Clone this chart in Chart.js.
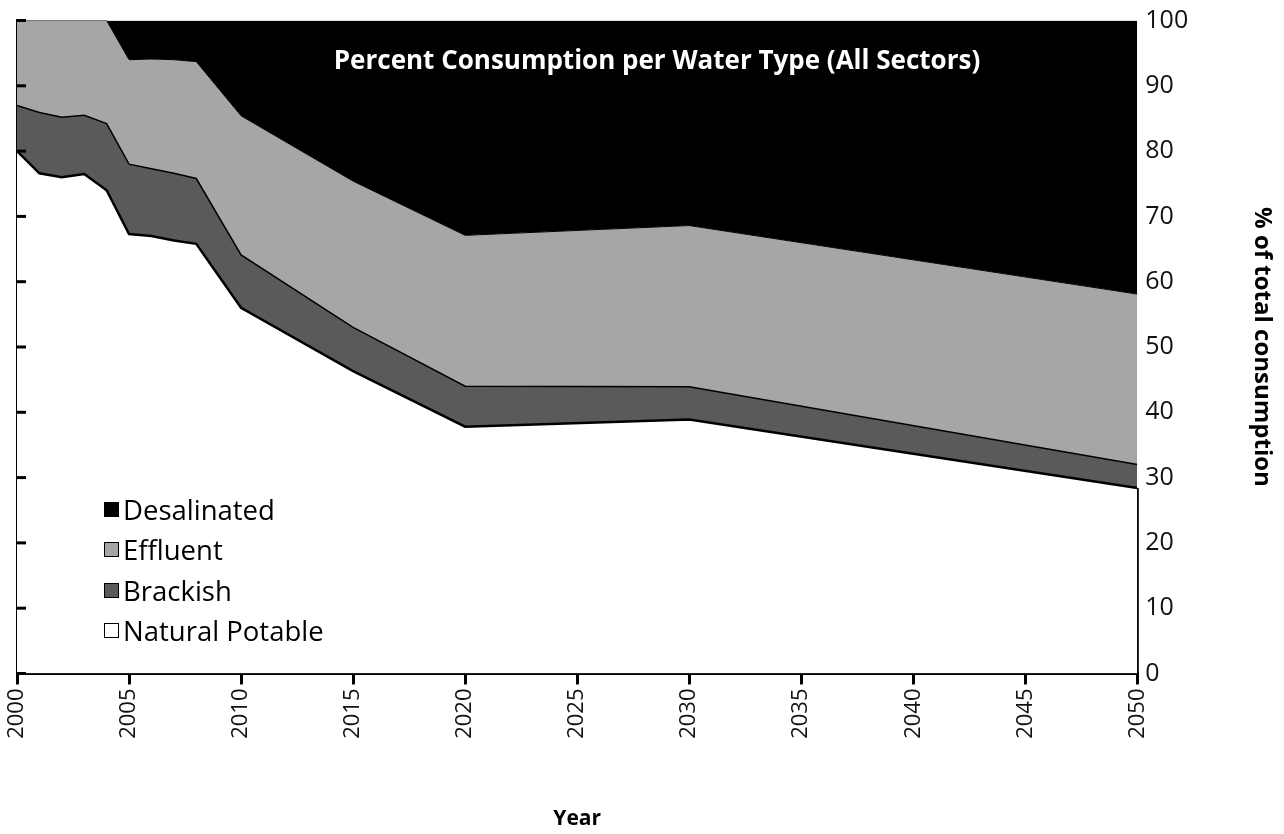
<!DOCTYPE html>
<html>
<head>
<meta charset="utf-8">
<script src="https://cdn.jsdelivr.net/npm/chart.js@4.4.1/dist/chart.umd.min.js"></script>
<style>
  html, body { margin: 0; padding: 0; background: #fff; }
  #wrap { position: relative; width: 1284px; height: 834px; }
  #chart { position: absolute; left: 0; top: 0; }
  #title { position: absolute; left: 657px; top: 41px; transform: translateX(-50%);
           font-family: "Open Sans", sans-serif; font-weight: bold; font-size: 26px; line-height: 36px; color: #fff;
           white-space: nowrap; letter-spacing: 0px; }
  #legend { position: absolute; left: 104px; top: 489px; font-family: "Open Sans", sans-serif;
            font-size: 27.5px; color: #000; }
  .item { height: 40.5px; display: flex; align-items: center; white-space: nowrap; }
  .box { width: 13px; height: 13px; border: 1.5px solid #000; margin-right: 4px; box-sizing: content-box; }
</style>
</head>
<body>
<div id="wrap">
  <canvas id="chart" width="1284" height="834"></canvas>
  <div id="title">Percent Consumption per Water Type (All Sectors)</div>
  <div id="legend"></div>
</div>
<script>
// Years with data points
const years = [2000, 2001, 2002, 2003, 2004, 2005, 2006, 2007, 2008, 2010, 2015, 2020, 2030, 2050];
// Share of total consumption (%) per water type
const naturalPotable = [80.0, 76.6, 76.0, 76.5, 74.0, 67.3, 67.0, 66.3, 65.8, 56.0, 46.3, 37.8, 38.9, 28.4];
const brackish       = [ 7.0,  9.3,  9.2,  9.0, 10.2, 10.7, 10.3, 10.3, 10.0,  8.1,  6.7,  6.2,  5.0,  3.6];
const effluent       = [13.0, 14.1, 14.8, 14.5, 15.8, 16.0, 16.8, 17.4, 17.9, 21.3, 22.4, 23.1, 24.7, 26.1];
const desalinated    = [ 0.0,  0.0,  0.0,  0.0,  0.0,  6.0,  5.9,  6.0,  6.3, 14.6, 24.6, 32.9, 31.4, 41.9];
const yTicks = [0, 10, 20, 30, 40, 50, 60, 70, 80, 90, 100];
const xTicks = [2000, 2005, 2010, 2015, 2020, 2025, 2030, 2035, 2040, 2045, 2050];

const seriesNames = ['Natural Potable', 'Brackish', 'Effluent', 'Desalinated'];
const seriesFill = ['#ffffff', '#5a5a5a', '#a6a6a6', '#000000'];
const seriesValues = [naturalPotable, brackish, effluent, desalinated];

const toPts = arr => arr.map((v, i) => ({ x: years[i], y: v }));

const datasets = seriesValues.map((vals, i) => ({
  label: seriesNames[i],
  data: toPts(vals),
  backgroundColor: seriesFill[i],
  borderColor: '#000',
  borderWidth: [2.5, 1.5, 1, 0][i],
  fill: i === 0 ? 'origin' : '-1',
  pointRadius: 0,
  tension: 0,
  yAxisID: 'y',
  stack: 'water'
}));
// vertical closing edge of the Natural Potable area at the last year
const lastYear = years[years.length - 1];
datasets.push({
  label: 'edge',
  data: [{ x: lastYear, y: 0 }, { x: lastYear, y: naturalPotable[naturalPotable.length - 1] }],
  borderColor: '#000', borderWidth: 3, fill: false, pointRadius: 0, clip: false,
  yAxisID: 'y', stack: 'edge'
});

const FONT = '"Open Sans", sans-serif';

// inward tick marks on the left value axis (positions from the scale)
const inwardTicks = {
  id: 'inwardTicks',
  afterDatasetsDraw(chart) {
    const s = chart.scales.yl, ctx = chart.ctx, left = chart.chartArea.left;
    ctx.save();
    ctx.strokeStyle = '#000';
    ctx.lineWidth = 3;
    s.ticks.forEach(t => {
      const y = s.getPixelForValue(t.value);
      ctx.beginPath();
      ctx.moveTo(left, y);
      ctx.lineTo(left + 9, y);
      ctx.stroke();
    });
    ctx.restore();
  }
};

new Chart(document.getElementById('chart'), {
  type: 'line',
  data: { datasets },
  plugins: [inwardTicks],
  options: {
    responsive: false,
    animation: false,
    events: [],
    layout: { padding: { left: 17, right: 0, top: 9, bottom: 0 } },
    plugins: { legend: { display: false }, tooltip: { enabled: false }, title: { display: false } },
    scales: {
      x: {
        type: 'linear', min: years[0], max: lastYear,
        afterBuildTicks: s => { s.ticks = xTicks.map(v => ({ value: v })); },
        ticks: { callback: v => String(v), maxRotation: 90, minRotation: 90, padding: 4,
                 font: { family: FONT, size: 22 }, color: '#111' },
        grid: { drawOnChartArea: false, color: '#000', lineWidth: 3, tickLength: 11 },
        border: { display: true, color: '#000', width: 3 },
        title: { display: true, text: 'Year', font: { family: FONT, size: 21, weight: 'bold' },
                 color: '#000', padding: { top: 64, bottom: 2 } }
      },
      yl: {
        type: 'linear', position: 'left', min: 0, max: 100,
        afterBuildTicks: s => { s.ticks = yTicks.map(v => ({ value: v })); },
        ticks: { display: false },
        grid: { drawOnChartArea: false, drawTicks: false },
        border: { display: true, color: '#000', width: 3 }
      },
      y: {
        type: 'linear', position: 'right', min: 0, max: 100, stacked: true,
        afterBuildTicks: s => { s.ticks = yTicks.map(v => ({ value: v })); },
        ticks: { padding: 8, font: { family: FONT, size: 25, lineHeight: 1.0 }, color: '#111' },
        grid: { display: false, drawTicks: false },
        border: { display: false },
        title: { display: true, text: '% of total consumption', font: { family: FONT, size: 24, weight: 'bold' },
                 color: '#000', padding: { top: 8, bottom: 51 } }
      }
    }
  }
});

// HTML legend (reverse of stacking order, as in the reference)
const legend = document.getElementById('legend');
[3, 2, 1, 0].forEach(i => {
  const row = document.createElement('div');
  row.className = 'item';
  const b = document.createElement('span');
  b.className = 'box';
  b.style.background = seriesFill[i];
  const t = document.createElement('span');
  t.textContent = seriesNames[i];
  row.appendChild(b); row.appendChild(t);
  legend.appendChild(row);
});
</script>
</body>
</html>
